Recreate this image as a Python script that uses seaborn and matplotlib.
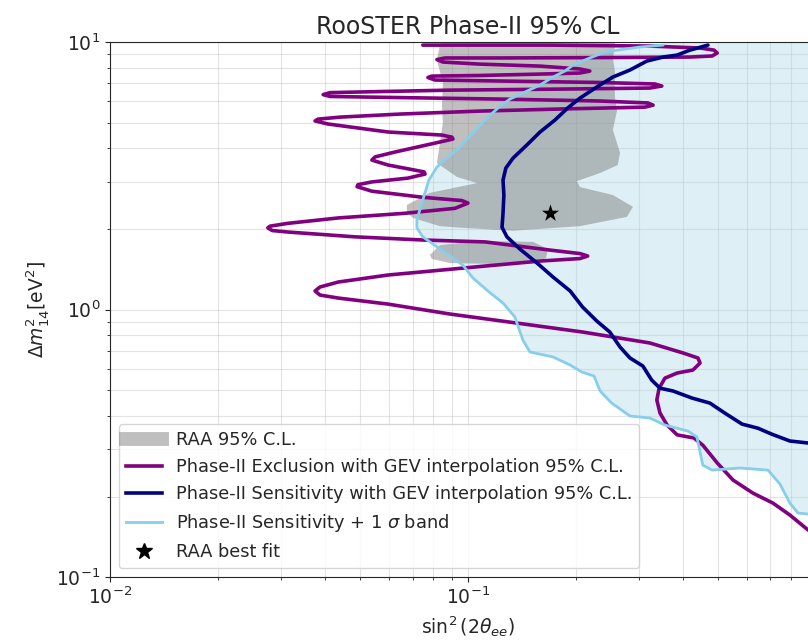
import matplotlib
matplotlib.use("Agg")
import matplotlib.pyplot as plt
from matplotlib.lines import Line2D
import seaborn as sns

sns.set_style("ticks")
plt.rcParams["font.family"] = ["DejaVu Sans"]
plt.rcParams["mathtext.fontset"] = "dejavusans"

# RAA 95% C.L. allowed region (upper column joined to the 2.3 eV^2 lobe)
raa_main_x = [0.0841, 0.0835, 0.0819, 0.0851, 0.0846, 0.0851, 0.0835, 0.0819, 0.0932, 0.106,
              0.0783, 0.0675, 0.0675, 0.0702, 0.0835, 0.0968, 0.1336, 0.2055, 0.278, 0.289,
              0.254, 0.2055, 0.2016, 0.234, 0.262, 0.266, 0.254, 0.261, 0.2573, 0.2573,
              0.254, 0.2573, 0.2573]
raa_main_y = [10.0, 9.74, 8.57, 7.03, 5.71, 4.98, 4.19, 3.53, 3.13, 2.97,
              2.73, 2.46, 2.31, 2.20, 2.05, 2.02, 1.97, 2.05, 2.22, 2.42,
              2.68, 2.87, 3.02, 3.24, 3.47, 3.85, 4.69, 5.57, 6.23, 7.79,
              8.72, 9.50, 10.0]
# small RAA island near 1.6 eV^2
raa_low_x = [0.0783, 0.0835, 0.1013, 0.123, 0.152, 0.1673, 0.1652, 0.152, 0.1205, 0.0891, 0.0793]
raa_low_y = [1.60, 1.74, 1.79, 1.80, 1.79, 1.683, 1.558, 1.492, 1.48, 1.492, 1.545]

# RAA best fit
raa_best_x = [0.17]
raa_best_y = [2.3]

# Phase-II exclusion contour (GEV interpolation, 95% C.L.)
excl_x = [0.0748, 0.169, 0.322, 0.445, 0.487, 0.497, 0.481, 0.417, 0.234, 0.123,
          0.0863, 0.0819, 0.0851, 0.108, 0.159, 0.2055, 0.219, 0.2055, 0.159, 0.108,
          0.0793, 0.0773, 0.0809, 0.123, 0.234, 0.333, 0.348, 0.322, 0.181, 0.0891,
          0.0568, 0.0412, 0.0394, 0.0412, 0.0646, 0.123, 0.234, 0.318, 0.329, 0.312,
          0.181, 0.108, 0.0646, 0.0439, 0.0381, 0.0374, 0.0406, 0.0598, 0.0846, 0.0902,
          0.0908, 0.0809, 0.0625, 0.0550, 0.0539, 0.0598, 0.0711, 0.0754, 0.0759, 0.0680,
          0.0539, 0.0493, 0.0490, 0.0539, 0.0744, 0.0962, 0.100, 0.0920, 0.0667, 0.0434,
          0.0314, 0.0280, 0.0276, 0.0284, 0.0314, 0.0483, 0.0744, 0.1116, 0.169, 0.2055,
          0.216, 0.2055, 0.159, 0.1116, 0.0598, 0.0434, 0.0386, 0.0374, 0.0386, 0.0434,
          0.0598, 0.0891, 0.137, 0.209, 0.322, 0.399, 0.439, 0.445, 0.425, 0.384,
          0.355, 0.342, 0.337, 0.344, 0.360, 0.384, 0.428, 0.453, 0.497, 0.550,
          0.625, 0.711, 0.793, 0.891, 0.981]
excl_y = [9.74, 9.74, 9.66, 9.50, 9.33, 9.10, 8.87, 8.79, 8.75, 8.72,
          8.72, 8.60, 8.42, 8.27, 8.13, 7.93, 7.79, 7.66, 7.59, 7.50,
          7.46, 7.37, 7.21, 7.15, 7.06, 6.97, 6.85, 6.73, 6.67, 6.61,
          6.53, 6.47, 6.36, 6.26, 6.20, 6.12, 6.02, 5.92, 5.81, 5.71,
          5.62, 5.52, 5.38, 5.24, 5.15, 5.07, 4.94, 4.61, 4.49, 4.41,
          4.34, 4.19, 3.88, 3.72, 3.62, 3.47, 3.32, 3.27, 3.21, 3.10,
          3.00, 2.93, 2.88, 2.77, 2.63, 2.555, 2.50, 2.39, 2.29, 2.20,
          2.10, 2.05, 2.02, 1.974, 1.949, 1.87, 1.82, 1.79, 1.669, 1.619,
          1.585, 1.551, 1.518, 1.454, 1.346, 1.267, 1.214, 1.173, 1.133, 1.104,
          1.048, 0.962, 0.890, 0.824, 0.750, 0.688, 0.659, 0.631, 0.594, 0.579,
          0.554, 0.508, 0.459, 0.410, 0.370, 0.340, 0.331, 0.311, 0.267, 0.2305,
          0.206, 0.189, 0.1705, 0.150, 0.141]

# Phase-II sensitivity contour (GEV interpolation, 95% C.L.)
sens_x = [0.468, 0.417, 0.384, 0.351, 0.316, 0.2835, 0.254, 0.229, 0.2055, 0.190,
          0.175, 0.159, 0.146, 0.1336, 0.1276, 0.1253, 0.126, 0.1253, 0.1245, 0.1285,
          0.1397, 0.156, 0.1728, 0.193, 0.209, 0.229, 0.249, 0.266, 0.2835, 0.308,
          0.326, 0.344, 0.374, 0.422, 0.474, 0.522, 0.583, 0.646, 0.706, 0.793,
          0.891, 1.0]
sens_y = [9.74, 9.33, 8.94, 8.79, 8.49, 7.86, 7.40, 6.79, 6.17, 5.67,
          5.11, 4.61, 4.12, 3.68, 3.38, 3.05, 2.68, 2.29, 2.03, 1.87,
          1.683, 1.492, 1.323, 1.173, 1.022, 0.906, 0.824, 0.724, 0.659, 0.615,
          0.545, 0.508, 0.496, 0.467, 0.447, 0.410, 0.373, 0.360, 0.342, 0.3225,
          0.317, 0.314]

# Sensitivity + 1 sigma edge of the band
band_x = [0.351, 0.302, 0.261, 0.2414, 0.219, 0.1965, 0.1866, 0.1728, 0.159, 0.1424,
          0.131, 0.123, 0.113, 0.1033, 0.0950, 0.0873, 0.0819, 0.0778, 0.0748, 0.0720,
          0.0720, 0.0748, 0.0851, 0.0968, 0.1033, 0.1137, 0.1253, 0.1352, 0.1424, 0.149,
          0.1728, 0.193, 0.208, 0.225, 0.234, 0.252, 0.2835, 0.322, 0.355, 0.412,
          0.436, 0.453, 0.481, 0.575, 0.689, 0.744, 0.793, 0.835, 0.891, 1.0]
band_y = [9.74, 9.58, 9.33, 9.18, 8.72, 8.20, 7.79, 7.40, 6.91, 6.45,
          6.12, 5.76, 5.20, 4.57, 4.05, 3.68, 3.41, 3.05, 2.57, 2.16,
          2.02, 1.87, 1.654, 1.466, 1.311, 1.173, 1.057, 0.938, 0.769, 0.694,
          0.665, 0.620, 0.584, 0.564, 0.496, 0.447, 0.400, 0.393, 0.370, 0.351,
          0.334, 0.262, 0.251, 0.2556, 0.251, 0.2226, 0.189, 0.1735, 0.172, 0.1705]

labels = ["RAA 95% C.L.",
          "Phase-II Exclusion with GEV interpolation 95% C.L.",
          "Phase-II Sensitivity with GEV interpolation 95% C.L.",
          r"Phase-II Sensitivity + 1 $\sigma$ band",
          "RAA best fit"]

XMIN, XMAX = 1e-2, 1.0
YMIN, YMAX = 1e-1, 10.0

fig = plt.figure(figsize=(8.08, 6.43), dpi=100)
ax = fig.add_axes([0.1361, 0.1026, 0.8861, 0.832])
ax.set_xscale("log")
ax.set_yscale("log")
ax.set_xlim(XMIN, XMAX)
ax.set_ylim(YMIN, YMAX)

ax.set_axisbelow(True)
ax.grid(True, which="both", color="#b0b0b0", alpha=0.35, linewidth=0.8)

# sensitivity band: everything to the right of the +1 sigma edge, up to the top of the plot
ax.fill_betweenx([YMAX] + band_y, [band_x[0]] + band_x, XMAX,
                 color="lightblue", alpha=0.4, linewidth=0, zorder=1)
# RAA allowed region
ax.fill(raa_main_x, raa_main_y, color="grey", alpha=0.5, linewidth=0, zorder=2)
ax.fill(raa_low_x, raa_low_y, color="grey", alpha=0.5, linewidth=0, zorder=2)

sns.lineplot(x=excl_x, y=excl_y, sort=False, estimator=None, color="purple",
             linewidth=2.6, ax=ax, zorder=3)
sns.lineplot(x=sens_x, y=sens_y, sort=False, estimator=None, color="navy",
             linewidth=2.6, ax=ax, zorder=4)
sns.lineplot(x=band_x, y=band_y, sort=False, estimator=None, color="skyblue",
             linewidth=2.0, ax=ax, zorder=5)
sns.scatterplot(x=raa_best_x, y=raa_best_y, marker="*", s=170, color="black",
                edgecolor="black", linewidth=0, ax=ax, zorder=6)

handles = [
    Line2D([], [], color="grey", alpha=0.5, linewidth=10, solid_capstyle="projecting"),
    Line2D([], [], color="purple", linewidth=2.6, solid_capstyle="projecting"),
    Line2D([], [], color="navy", linewidth=2.6, solid_capstyle="projecting"),
    Line2D([], [], color="skyblue", linewidth=2.0, solid_capstyle="projecting"),
    Line2D([], [], color="black", marker="*", markersize=12, linestyle="none"),
]
ax.legend(handles, labels, loc="lower left", fontsize=12.8, framealpha=0.8)

ax.set_xticks([1e-2, 1e-1])
ax.set_title("RooSTER Phase-II 95% CL", fontsize=17)
ax.set_xlabel(r"$\sin^2(2\theta_{ee})$", fontsize=13.5)
ax.set_ylabel(r"$\Delta m^2_{14}$[eV$^2$]", fontsize=13.5)
ax.tick_params(axis="both", which="major", labelsize=13.5)
ax.spines["right"].set_visible(False)

fig.savefig("out.png", dpi=100)
